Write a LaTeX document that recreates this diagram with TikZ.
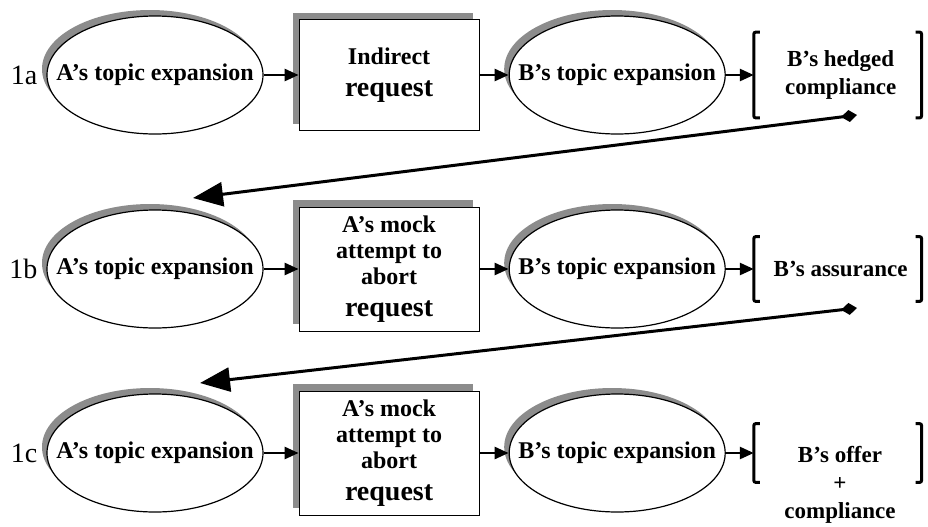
\documentclass[tikz,border=0pt]{standalone}
\usepackage{fontspec}
\setmainfont{Liberation Serif}
\usetikzlibrary{arrows.meta,positioning,shapes.geometric,shadows}

\begin{document}
\begin{tikzpicture}[x=0.5pt,y=-0.5pt,node distance=14pt,
		topic/.style={ellipse,draw,line width=0.6pt,fill=white,minimum width=108pt,minimum height=59pt,inner xsep=-12pt,inner ysep=0pt,
			font=\fontsize{12}{14}\selectfont\bfseries,general shadow={fill=gray!90,shadow xshift=-2.5pt,shadow yshift=3pt}},
		move/.style={rectangle,draw,line width=0.5pt,fill=white,minimum width=90pt,inner sep=0pt,align=center,
			font=\fontsize{12}{13}\selectfont\bfseries,general shadow={fill=gray!90,shadow xshift=-3pt,shadow yshift=3.5pt}},
		outcome/.style={minimum width=83.5pt,inner sep=0pt},
		res/.style={align=center,font=\fontsize{11.5}{14}\selectfont\bfseries},
		tag/.style={font=\fontsize{14}{16}\selectfont},
		brk/.style={line width=1.5pt,rounded corners=1pt},
		link/.style={-{Triangle[length=7pt,width=6pt]},line width=1.3pt},
		jump/.style={{Diamond[length=8pt,width=6pt]}-{Triangle[length=15pt,width=12pt]},line width=1.5pt}]
		\useasboundingbox (0,0) rectangle (928,526);
		% 1a
		\node[topic] (a_1) at (155,75) {A’s topic expansion};
		\node[tag] [left=1pt of a_1] (a_0) {1a};
		\node[move,minimum height=55.5pt] [right=17.5pt of a_1] (a_2) {Indirect\\[3pt]{\fontsize{14}{16}\selectfont request}};
		\node[topic] [right=14.5pt of a_2] (a_3) {B’s topic expansion};
		\node[outcome,minimum height=42.5pt] [right=of a_3] (a_4) {};
		\node[res] [xshift=1.5pt] at (a_4) (a_5) {B’s hedged\\compliance};
		% 1b
		\node[topic] (b_1) at (155,269) {A’s topic expansion};
		\node[tag] [left=1pt of b_1] (b_0) {1b};
		\node[move,minimum height=62pt] [right=17.5pt of b_1] (b_2) {A’s mock\\attempt to\\abort\\[3pt]{\fontsize{14}{16}\selectfont request}};
		\node[topic] [right=14.5pt of b_2] (b_3) {B’s topic expansion};
		\node[outcome,minimum height=32pt] [right=of b_3] (b_4) {};
		\node[res] [xshift=1.5pt] at (b_4) (b_5) {B’s assurance};
		% 1c
		\node[topic] (c_1) at (155,453) {A’s topic expansion};
		\node[tag] [left=1pt of c_1] (c_0) {1c};
		\node[move,minimum height=62pt] [right=17.5pt of c_1] (c_2) {A’s mock\\attempt to\\abort\\[3pt]{\fontsize{14}{16}\selectfont request}};
		\node[topic] [right=14.5pt of c_2] (c_3) {B’s topic expansion};
		\node[outcome,minimum height=29pt] [right=of c_3] (c_4) {};
		\node[res] (c_5) at (840,485) {B’s offer\\+\\compliance};
		% brackets
		\foreach \n in {a_4,b_4,c_4} {
			\draw[brk] ([xshift=3pt]\n.north west) -- (\n.north west) -- (\n.south west) -- ([xshift=3pt]\n.south west);
			\draw[brk] ([xshift=-3pt]\n.north east) -- (\n.north east) -- (\n.south east) -- ([xshift=-3pt]\n.south east);
		}
		\path[link]
			(a_1) edge (a_2) (a_2) edge (a_3) (a_3) edge (a_4)
			(b_1) edge (b_2) (b_2) edge (b_3) (b_3) edge (b_4)
			(c_1) edge (c_2) (c_2) edge (c_3) (c_3) edge (c_4);
		% back to A
		\coordinate (h_1) at (857,115);
		\coordinate (h_2) at (193,198);
		\coordinate (h_3) at (857,308);
		\coordinate (h_4) at (200,383);
		\draw[jump] (h_1) -- (h_2);
		\draw[jump] (h_3) -- (h_4);
	\end{tikzpicture}
\end{document}
